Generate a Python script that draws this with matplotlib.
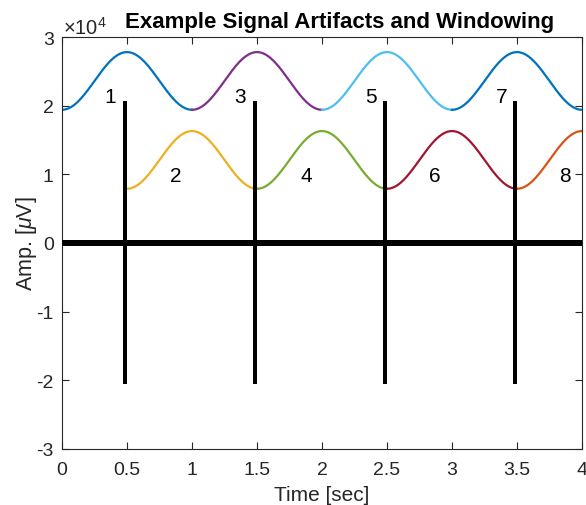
import numpy as np
import matplotlib
matplotlib.use("Agg")
import matplotlib.pyplot as plt

plt.rcParams['font.family'] = ['Liberation Sans', 'DejaVu Sans']
plt.rcParams['mathtext.fontset'] = 'custom'
plt.rcParams['mathtext.rm'] = 'Liberation Sans'
plt.rcParams['mathtext.it'] = 'Liberation Sans:italic'

# ---- data ----
win_starts = [0.0, 0.5, 1.0, 1.5, 2.0, 2.5, 3.0, 3.5]
win_length = 1.0
win_bases = [1.94e4, 0.79e4, 1.94e4, 0.79e4, 1.94e4, 0.79e4, 1.94e4, 0.79e4]
win_peaks = [2.78e4, 1.63e4, 2.78e4, 1.63e4, 2.78e4, 1.63e4, 2.78e4, 1.63e4]
win_colors = ['#0072BD', '#EDB120', '#7E2F8E', '#77AC30',
              '#4DBEEE', '#A2142F', '#0072BD', '#D95319']
win_labels = ['1', '2', '3', '4', '5', '6', '7', '8']
label_x = [0.37, 0.875, 1.37, 1.88, 2.38, 2.87, 3.38, 3.87]
label_y = [2.14e4, 0.98e4, 2.14e4, 0.98e4, 2.14e4, 0.98e4, 2.14e4, 0.98e4]

spike_times = [0.483, 1.483, 2.483, 3.483]
spike_width = 0.035
spike_top = 2.07e4
spike_bottom = -2.05e4
noise_level = 400
signal_span = [0.0, 4.0]

xticks = [0, 0.5, 1, 1.5, 2, 2.5, 3, 3.5, 4]
xticklabels = ['0', '0.5', '1', '1.5', '2', '2.5', '3', '3.5', '4']
yticks = [-3e4, -2e4, -1e4, 0, 1e4, 2e4, 3e4]
yticklabels = ['-3', '-2', '-1', '0', '1', '2', '3']

# ---- figure ----
W, H = 586, 506
fig = plt.figure(figsize=(W / 100, H / 100), dpi=100)
ax = fig.add_axes([62 / W, (H - 450) / H, 520 / W, 412 / H])

# black signal: noise band + artifact bursts
ax.fill_between(signal_span, [-noise_level] * 2, [noise_level] * 2,
                color='black', lw=0, zorder=3)
ax.bar(spike_times, [spike_top - spike_bottom] * len(spike_times),
       width=spike_width, bottom=spike_bottom, color='black', lw=0, zorder=3)

# windows (Hann shaped)
for s, b, p, c in zip(win_starts, win_bases, win_peaks, win_colors):
    t = np.linspace(s, s + win_length, 300)
    w = 0.5 - 0.5 * np.cos(2 * np.pi * (t - s) / win_length)
    ax.plot(t, b + (p - b) * w, color=c, lw=1.6, zorder=2, clip_on=True)

for lx, ly, lab in zip(label_x, label_y, win_labels):
    ax.text(lx, ly, lab, ha='center', va='center', fontsize=15, color='black', zorder=4)

ax.set_xlim(0, 4)
ax.set_ylim(-3e4, 3e4)
ax.set_xticks(xticks)
ax.set_xticklabels(xticklabels)
ax.set_yticks(yticks)
ax.set_yticklabels(yticklabels)
ax.tick_params(direction='in', length=5, width=0.8, colors='#262626',
               labelsize=14, top=True, right=True)
ax.tick_params(axis='x', pad=9)
ax.tick_params(axis='y', pad=6)
for sp in ax.spines.values():
    sp.set_color('#262626')
    sp.set_linewidth(0.8)

ax.set_xlabel('Time [sec]', fontsize=15, color='#262626', labelpad=5)
ax.set_ylabel(r'Amp. [$\mu$V]', fontsize=15.5, color='#262626', labelpad=-2)
ax.set_title('Example Signal Artifacts and Windowing', fontsize=16,
             fontweight='bold', pad=7, x=0.533)
fig.text(63 / W, 1 - 28 / H, r'$\times$10$^{4}$', fontsize=14.5, color='#262626',
         ha='left', va='center')

fig.savefig('out.png', dpi=100)
